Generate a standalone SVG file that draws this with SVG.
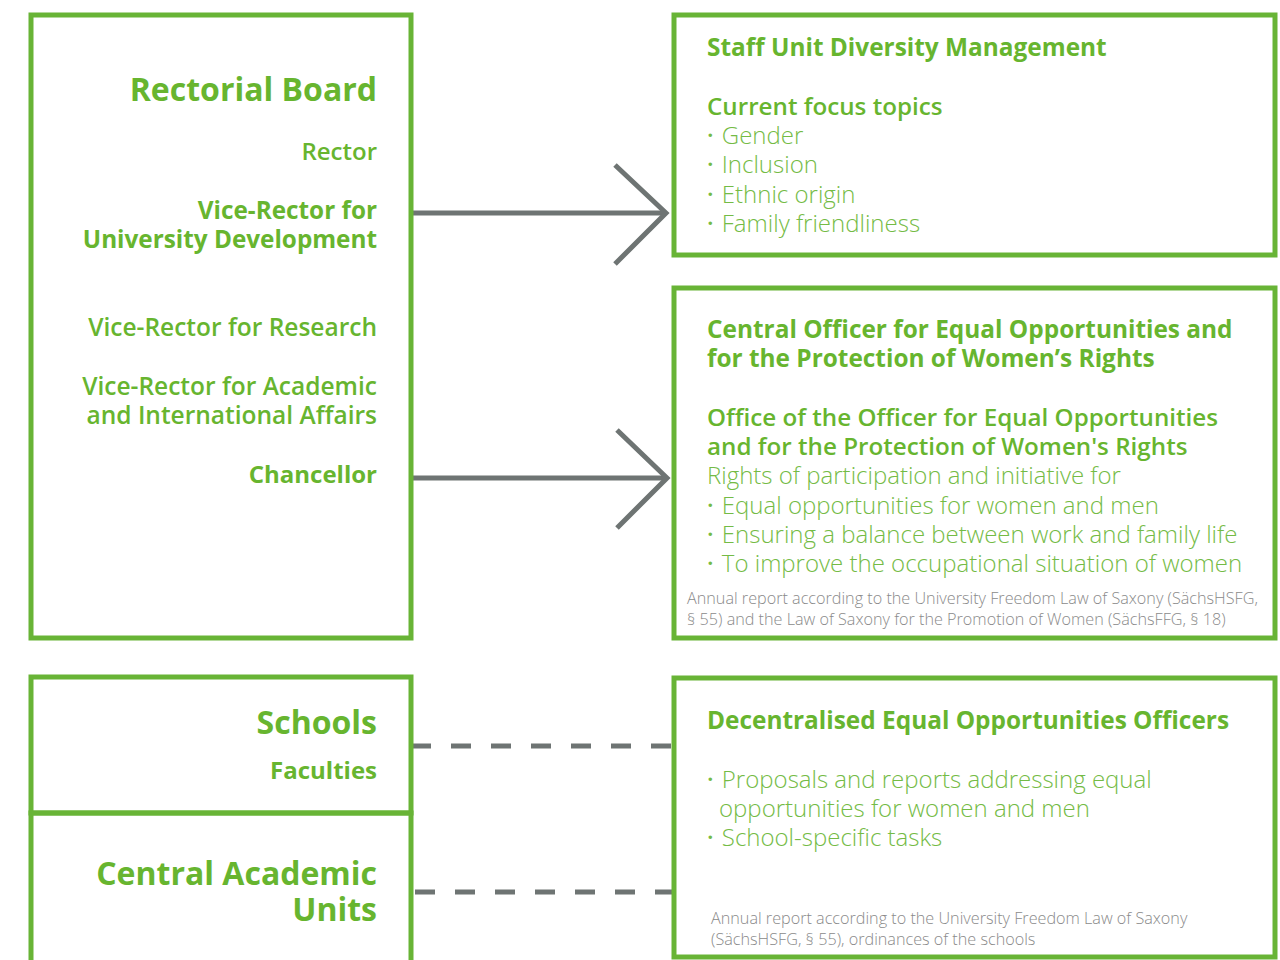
<svg xmlns="http://www.w3.org/2000/svg" width="1280" height="960" viewBox="0 0 1280 960">
<style>
.box{fill:none;stroke:#68b436;stroke-width:5}
.t{font-family:"Open Sans","Noto Sans","Liberation Sans",sans-serif;fill:#67b52f}
.b{font-weight:700}
.s{font-weight:600}
.l{font-weight:300;fill:#74bb45}
.r{text-anchor:end}
.d{font-weight:600}
.g{font-family:"Open Sans","Noto Sans","Liberation Sans",sans-serif;font-weight:300;fill:#8a8a8a;font-size:16.2px}
.ln{fill:none;stroke:#6e7473;stroke-width:5}
.dash{fill:none;stroke:#6e7473;stroke-width:5;stroke-dasharray:20 20}
</style>
<rect width="1280" height="960" fill="#ffffff"/>
<g id="connectors">
<path class="ln" d="M413 213 H666"/>
<path class="ln" d="M615 165 L666 213 L615 264"/>
<path class="ln" d="M413 478 H667"/>
<path class="ln" d="M617 430 L667 478 L617 528"/>
<path class="dash" d="M411 746 H672"/>
<path class="dash" d="M415 892 H673"/>
</g>
<g id="rectorial-board">
<rect class="box" x="31" y="15" width="380" height="623"/>
<text class="t b r" x="377" y="101" font-size="32">Rectorial Board</text>
<text class="t s r" x="377" y="160" font-size="24">Rector</text>
<text class="t b r" x="377" y="219" font-size="24.3">Vice-Rector for</text>
<text class="t b r" x="377" y="248" font-size="24.3">University Development</text>
<text class="t s r" x="377" y="336" font-size="24.5">Vice-Rector for Research</text>
<text class="t s r" x="377" y="395" font-size="24.5">Vice-Rector for Academic</text>
<text class="t s r" x="377" y="424" font-size="24.5">and International Affairs</text>
<text class="t b r" x="377" y="483" font-size="24">Chancellor</text>
</g>
<g id="staff-unit">
<rect class="box" x="674" y="15" width="601" height="240"/>
<text class="t b" x="707" y="56" font-size="24.4">Staff Unit Diversity Management</text>
<text class="t s" x="707" y="115" font-size="24.2">Current focus topics</text>
<text class="t l" x="707" y="144" font-size="24"><tspan class="d">·</tspan> <tspan dx="2">Gender</tspan></text>
<text class="t l" x="707" y="173" font-size="24"><tspan class="d">·</tspan> <tspan dx="2">Inclusion</tspan></text>
<text class="t l" x="707" y="203" font-size="24"><tspan class="d">·</tspan> <tspan dx="2">Ethnic origin</tspan></text>
<text class="t l" x="707" y="232" font-size="24"><tspan class="d">·</tspan> <tspan dx="2">Family friendliness</tspan></text>
</g>
<g id="central-officer">
<rect class="box" x="674" y="288" width="601" height="350"/>
<text class="t b" x="707" y="338" font-size="24.4">Central Officer for Equal Opportunities and</text>
<text class="t b" x="707" y="367" font-size="24.4">for the Protection of Women’s Rights</text>
<text class="t s" x="707" y="426" font-size="24.2">Office of the Officer for Equal Opportunities</text>
<text class="t s" x="707" y="455" font-size="24.2">and for the Protection of Women's Rights</text>
<text class="t l" x="707" y="484" font-size="24">Rights of participation and initiative for</text>
<text class="t l" x="707" y="514" font-size="24"><tspan class="d">·</tspan> <tspan dx="2">Equal opportunities for women and men</tspan></text>
<text class="t l" x="707" y="543" font-size="24"><tspan class="d">·</tspan> <tspan dx="2">Ensuring a balance between work and family life</tspan></text>
<text class="t l" x="707" y="572" font-size="24"><tspan class="d">·</tspan> <tspan dx="2">To improve the occupational situation of women</tspan></text>
<text class="g" x="687" y="604">Annual report according to the University Freedom Law of Saxony (SächsHSFG,</text>
<text class="g" x="687" y="625">§ 55) and the Law of Saxony for the Promotion of Women (SächsFFG, § 18)</text>
</g>
<g id="schools">
<rect class="box" x="31" y="677" width="380" height="136"/>
<text class="t b r" x="377" y="734" font-size="32">Schools</text>
<text class="t b r" x="377" y="779" font-size="24">Faculties</text>
</g>
<g id="central-academic-units">
<rect class="box" x="31" y="813" width="380" height="160"/>
<text class="t b r" x="377" y="885" font-size="32">Central Academic</text>
<text class="t b r" x="377" y="921" font-size="32">Units</text>
</g>
<g id="decentralised-officers">
<rect class="box" x="674" y="678" width="601" height="279"/>
<text class="t b" x="707" y="729" font-size="24.4">Decentralised Equal Opportunities Officers</text>
<text class="t l" x="707" y="788" font-size="24"><tspan class="d">·</tspan> <tspan dx="2">Proposals and reports addressing equal</tspan></text>
<text class="t l" x="719" y="817" font-size="24">opportunities for women and men</text>
<text class="t l" x="707" y="846" font-size="24"><tspan class="d">·</tspan> <tspan dx="2">School-specific tasks</tspan></text>
<text class="g" x="711" y="924">Annual report according to the University Freedom Law of Saxony</text>
<text class="g" x="711" y="945">(SächsHSFG, § 55), ordinances of the schools</text>
</g>
</svg>
